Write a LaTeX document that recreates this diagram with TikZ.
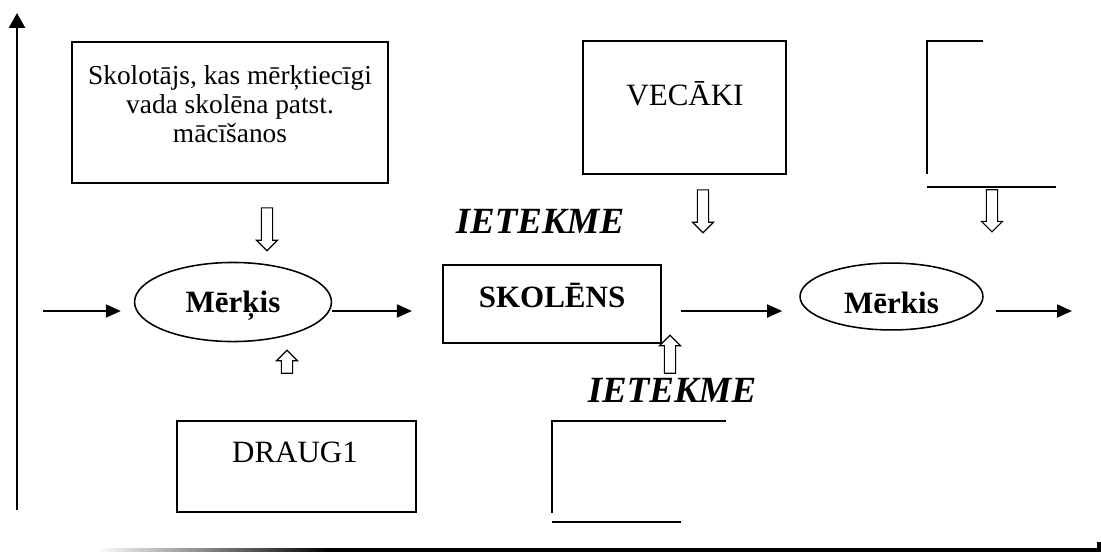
\documentclass[tikz,border=0pt]{standalone}
\usepackage{fontspec}
\setmainfont{Liberation Serif}
\usetikzlibrary{arrows.meta, shapes.geometric, shapes.arrows}

\tikzset{
  box/.style={draw, line width=0.8pt, inner sep=0pt},
  goal/.style={ellipse, draw, line width=0.6pt, inner sep=0pt, text depth=0pt,
    font=\fontsize{12}{14}\selectfont\bfseries},
  flow/.style={line width=0.8pt, -{Triangle[length=5.8pt, width=5pt]}},
  hollow/.style={single arrow, draw, line width=0.45pt, inner sep=1.95pt,
    single arrow head extend=1.9pt, single arrow tip angle=90},
  influence/.style={font=\fontsize{14.3}{16}\selectfont\bfseries\itshape, anchor=base},
  axis/.style={line width=1pt}
}

\begin{document}
\begin{tikzpicture}[x=0.387pt, y=-0.387pt, font=\fontsize{12}{14}\selectfont]
\useasboundingbox (0,0) rectangle (1101,553);

\node [box, minimum width=122.3pt, minimum height=54.6pt] (teacher) at (230,112.5) {};
\node [align=center, font=\fontsize{10.6}{11.2}\selectfont] (teachertext) at (230,104) {Skolotājs, kas mērķtiecīgi\\vada skolēna patst.\\mācīšanos};
\node [box, minimum width=78.6pt, minimum height=51.5pt] (parents) at (684.5,107.5) {};
\node [anchor=base] (parentstext) at (685,105) {VECĀKI};
\node [box, minimum width=84.4pt, minimum height=30.2pt] (pupil) at (552,304) {};
\node [anchor=base, font=\fontsize{12}{14}\selectfont\bfseries] (pupiltext) at (552,307) {SKOLĒNS};
\node [box, minimum width=92.5pt, minimum height=35.2pt] (friend) at (296.5,466.5) {};
\node [anchor=base] (friendtext) at (295,462) {DRAUG1};

\node [goal, minimum width=76.2pt, minimum height=30.6pt, text height=8.5pt] (goal1) at (233,302) {Mērķis};
\node [goal, minimum width=70.8pt, minimum height=25.9pt, text height=12.8pt] (goal2) at (891.5,296.5) {Mērkis};

\node [influence] (infl1) at (540,233) {IETEKME};
\node [influence] (infl2) at (672,402) {IETEKME};

\node [hollow, rotate=-90, minimum height=16.6pt] (push1) at (267,226.5) {};
\node [hollow, rotate=-90, minimum height=16.6pt] (push2) at (703,208.5) {};
\node [hollow, rotate=-90, minimum height=16.3pt] (push3) at (992,208) {};
\node [hollow, rotate=90, minimum height=8.9pt] (lift1) at (287,364.5) {};
\node [hollow, rotate=90, minimum height=14.7pt] (lift2) at (670,357) {};

\draw [line width=0.6pt] (983,41) -- (927,41) -- (927,174);
\draw [line width=0.6pt] (927,187) -- (1056,187);
\draw [line width=0.8pt] (726,421) -- (552,421) -- (552,513);
\draw [line width=0.8pt] (552,522) -- (681,522);

\coordinate (src) at (43,311);
\coordinate (dst) at (1072,311);
\draw [flow, shorten >=5pt] (src) -- (src -| goal1.west);
\draw [flow, shorten >=11.6pt] (goal1.east |- src) -- (pupil.west |- src);
\draw [flow, shorten <=7.4pt, shorten >=6.6pt] (pupil.east |- src) -- (goal2.west |- src);
\draw [flow, shorten <=4.6pt] (goal2.east |- src) -- (dst);

\coordinate (origin) at (17,510);
\coordinate (top) at (17,13);
\draw [axis, -{Triangle[length=5.8pt, width=6.2pt]}] (origin) -- (top);
\shade [left color=white, right color=black] (95,548.5) rectangle (330,551.5);
\draw [axis, line width=1.2pt] (330,550) -- (1099,550) -- (1099,542);
\end{tikzpicture}
\end{document}
